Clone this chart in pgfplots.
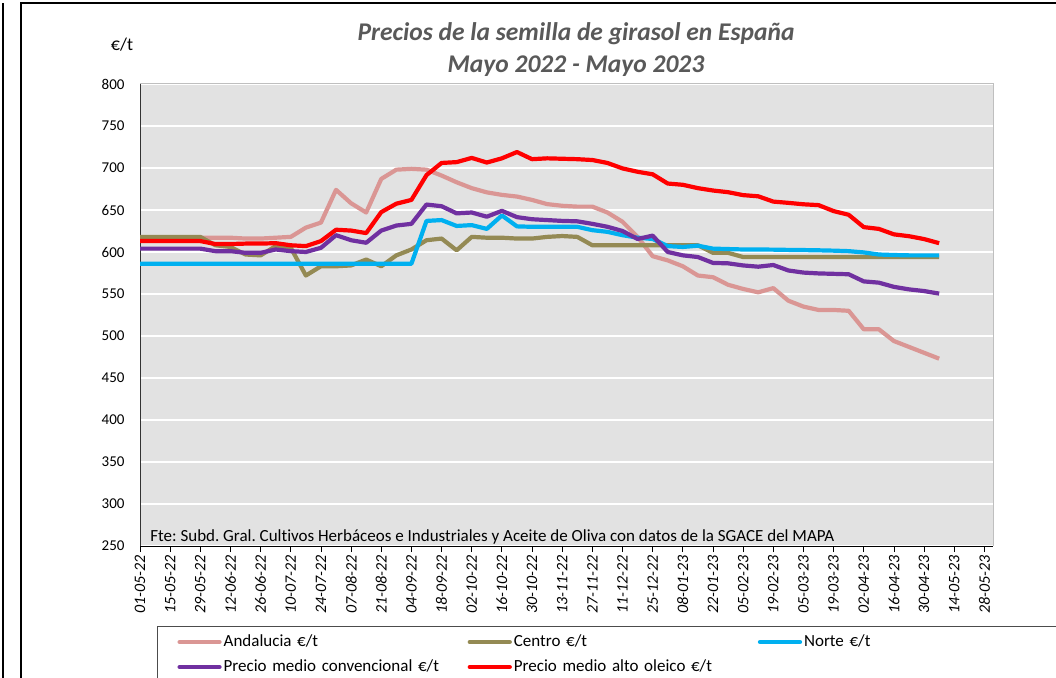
\documentclass[border=0pt]{standalone}
\usepackage{pgfplots}
\pgfplotsset{compat=1.18}
\usepackage{pgfplotstable}
\usepackage{fontspec}
\setmainfont{Carlito}[Ligatures=NoCommon]
\frenchspacing
\definecolor{andc}{HTML}{DA9694}
\definecolor{cenc}{HTML}{948A54}
\definecolor{norc}{HTML}{00B0F0}
\definecolor{convc}{HTML}{7030A0}
\definecolor{olec}{HTML}{FF0000}
\definecolor{plotbg}{HTML}{E2E2E2}
\definecolor{titc}{HTML}{595959}
\newcommand{\ti}[1]{\textit{#1}}
\pgfplotstableread{
d and cen nor conv ole
0 617 618 586 604 613
7 617 618 586 604 613
14 617 618 586 604 613
21 617 618 586 604 613
28 617 618 586 604 613
35 617 608 586 601 609.5
42 617 606 586 601 609.5
49 616 597 586 599 610
56 616 596 586 599 610
63 617 607 586 603 610.5
70 618 605 586 601 608
77 629 572 586 600 607
84 635 583 586 605 613
91 674 583 586 620 626.5
98 658 584 586 614 625.5
105 647 591 586 611 622.5
112 687 583 586 625.5 647.5
119 698 596 586 631.5 657.5
126 699 603 586 633.5 662
133 698 614 637 656.5 691.5
140 691 616 638 654.5 706
147 683 602 631 646 707
154 676 618 632 647 712
161 671 617 627.5 642 706.5
168 668 617 643.5 649 711.5
175 666 616 630.5 641.5 719
182 662 616 630 639 710.5
189 657 618 630 638 711.5
196 655 619 630 637 711
203 654 618 630 636.5 710.5
210 654 608 626 633.5 709.5
217 647 608 624 630 706
224 636 608 620 625 699.5
231 618 608 617 615.5 695.5
238 595 608 615.5 619.5 692.5
245 590 608 607 600 681.5
252 583 608 606 596 680
259 572 608 607.5 594 676
266 570 599 604 587 673.2
273 561 599 603.5 586.5 671.2
280 556 594 603 584 667.7
287 552 594 603 582.5 666.3
294 557 594 602.8 584.5 660
301 542 594 602.5 578 658.5
308 535 594 602.3 575.5 656.8
315 531 594 602 574.5 655.8
322 531 594 601.6 574 648.7
329 530 594 601 573.5 644.3
336 508 594 599.5 565 629.6
343 508 594 597 563.5 627.5
350 494 594 596.4 558.5 621
357 487 594 596 555.5 618.8
364 480 594 596 553.5 615.4
371 473 594 596 550.5 610.5
}\data
\begin{document}
\begin{tikzpicture}
\path[use as bounding box] (0pt,0pt) rectangle (1056pt,677pt);
\draw[line width=1.5pt] (3pt,-5pt) -- (3pt,674pt);
\draw[line width=1.5pt] (21pt,-5pt) -- (21pt,674pt) -- (1060pt,674pt);
\node[font=\fontsize{25.5}{30}\selectfont\bfseries\itshape, text=titc] at (576pt,643pt) {Precios de la semilla de girasol en España};
\node[font=\fontsize{25.5}{30}\selectfont\bfseries\itshape, text=titc] at (576pt,611pt) {Mayo 2022 - Mayo 2023};
\node[font=\fontsize{18}{22}\selectfont] at (122pt,632pt) {€/t};
\begin{axis}[
  at={(140pt,131pt)}, anchor=south west,
  scale only axis, width=853pt, height=462pt,
  xmin=0, xmax=396, ymin=250, ymax=800,
  axis background/.style={fill=plotbg},
  axis x line*=bottom, axis y line*=left,
  x axis line style={black, line width=1pt, -},
  y axis line style={black!80, line width=1pt, -},
  ytick={250,300,...,800},
  ymajorgrids, major grid style={white, line width=1.6pt},
  ytick style={draw=none},
  xtick={0,14,...,392},
  xticklabels={\ti{01-05-22},\ti{15-05-22},\ti{29-05-22},\ti{12-06-22},\ti{26-06-22},\ti{10-07-22},\ti{24-07-22},\ti{07-08-22},\ti{21-08-22},\ti{04-09-22},\ti{18-09-22},\ti{02-10-22},\ti{16-10-22},\ti{30-10-22},\ti{13-11-22},\ti{27-11-22},\ti{11-12-22},\ti{25-12-22},\ti{08-01-23},\ti{22-01-23},\ti{05-02-23},\ti{19-02-23},\ti{05-03-23},\ti{19-03-23},\ti{02-04-23},\ti{16-04-23},\ti{30-04-23},\ti{14-05-23},\ti{28-05-23}},
  x tick label style={rotate=90, anchor=east, font=\fontsize{16}{18}\selectfont},
  y tick label style={font=\fontsize{15}{18}\selectfont, xshift=-6pt},
  xtick style={black, line width=0.8pt},
  tick align=outside, major tick length=6pt,
  /pgf/number format/assume math mode=true,
  clip mode=individual,
  legend columns=3,
  legend cell align=left,
  legend style={at={(0.0199,-0.1732)}, anchor=north west, draw=black!70, line width=1pt,
    font=\fontsize{17}{20}\selectfont, inner xsep=20pt, inner ysep=6pt, row sep=6pt,
    nodes={inner sep=2pt, text height=12pt, text depth=3pt},
    /tikz/every even column/.append style={text width=242pt}},
  legend image code/.code={\draw[#1, line cap=round] (0pt,0pt) -- (40pt,0pt);},
  every axis plot/.append style={line width=4.2pt, line join=round, no markers},
]
\addplot[andc] table[x=d, y=and] {\data};
\addlegendentry{Andalucia €/t}
\addplot[cenc] table[x=d, y=cen] {\data};
\addlegendentry{Centro €/t}
\addplot[norc] table[x=d, y=nor] {\data};
\addlegendentry{Norte €/t}
\addplot[convc] table[x=d, y=conv] {\data};
\addlegendentry{Precio medio convencional €/t}
\addplot[olec] table[x=d, y=ole] {\data};
\addlegendentry{Precio medio alto oleico €/t}
\draw[black!25, line width=1pt] (rel axis cs:0,1) -- (rel axis cs:1,1) -- (rel axis cs:1,0);
\node[anchor=base west, font=\fontsize{17}{20}\selectfont] at (rel axis cs:0.008,0.009) {Fte: Subd. Gral. Cultivos Herbáceos e Industriales y Aceite de Oliva con datos de la SGACE del MAPA};
\end{axis}
\end{tikzpicture}
\end{document}
